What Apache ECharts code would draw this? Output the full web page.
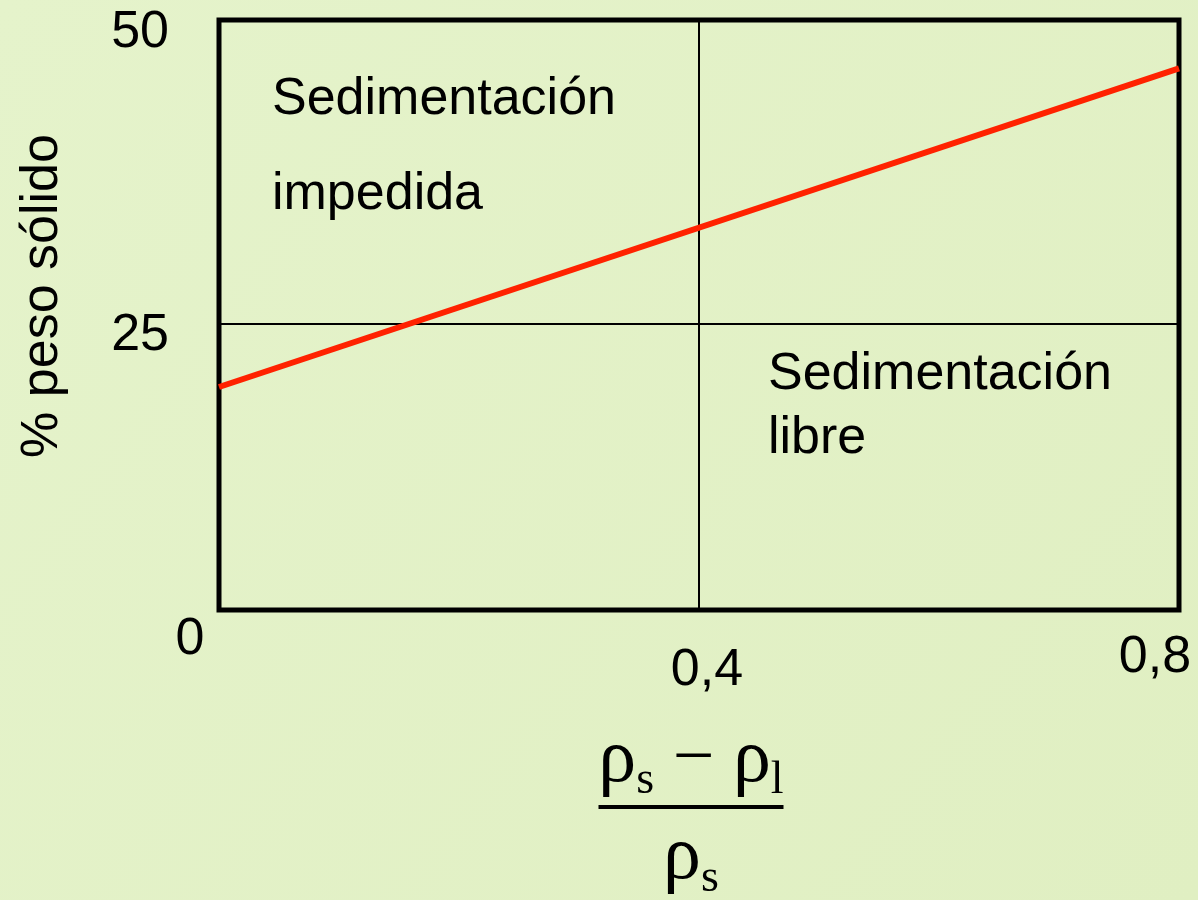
<!DOCTYPE html>
<html>
<head>
<meta charset="utf-8">
<script src="https://cdn.jsdelivr.net/npm/echarts@6/dist/echarts.min.js"></script>
<style>
  html, body { margin: 0; padding: 0; background: #e4f2c9; }
  #chart { width: 1198px; height: 900px; }
</style>
</head>
<body>
<div id="chart"></div>
<script>
// values
const xTicks = [0, 0.4, 0.8];
const xTickLabels = ['0', '0,4', '0,8'];
const yTicks = [0, 25, 50];
const yTickLabels = ['', '25', '50'];
const lineX = [0, 0.8];
const lineY = [18.9, 45.9];
const dividerX = 0.4;
const dividerY = 24.3;

const chart = echarts.init(document.getElementById('chart'));

const font = 'Liberation Sans, Arial, sans-serif';
const serif = 'Liberation Serif, Times New Roman, serif';

const option = {
    backgroundColor: {
        type: 'linear', x: 0, y: 0, x2: 1, y2: 1,
        colorStops: [
            { offset: 0, color: '#e5f3cb' },
            { offset: 1, color: '#e0efc2' }
        ]
    },
    animation: false,
    grid: {
        left: 219, right: 19, top: 20, bottom: 290,
        outerBoundsMode: 'none',
        containLabel: false,
        show: true,
        borderColor: '#000',
        borderWidth: 5,
        backgroundColor: 'transparent'
    },
    xAxis: {
        type: 'value',
        min: 0,
        max: 0.8,
        interval: 0.4,
        axisLine: { show: false },
        axisTick: { show: false },
        splitLine: { show: false },
        axisLabel: {
            margin: 4,
            color: '#000',
            fontFamily: font,
            fontSize: 52,
            formatter: function (v) {
                const i = xTicks.findIndex(t => Math.abs(t - v) < 1e-6);
                return '{t' + i + '|' + xTickLabels[i] + '}';
            },
            rich: {
                t0: { fontSize: 52, fontFamily: font, color: '#000', padding: [0, 58, 0, 0] },
                t1: { fontSize: 52, fontFamily: font, color: '#000', padding: [31, 0, 0, 16] },
                t2: { fontSize: 52, fontFamily: font, color: '#000', padding: [18, 48, 0, 0] }
            }
        },
        name: '{r|ρ}{s|s}{op| − }{r|ρ}{s|l}\n{bar|}\n{r2|ρ}{s2|s}',
        nameLocation: 'middle',
        nameGap: 118,
        nameTextStyle: {
            padding: [0, 16, 0, 0],
            rich: {
                r: { fontFamily: serif, fontSize: 76, color: '#000', lineHeight: 66 },
                s: { fontFamily: serif, fontSize: 46, color: '#000', lineHeight: 44, padding: [40, 0, 0, 0] },
                op: { fontFamily: serif, fontSize: 74, color: '#000', lineHeight: 66 },
                bar: { width: 185, height: 4, backgroundColor: '#000', lineHeight: 26 },
                r2: { fontFamily: serif, fontSize: 76, color: '#000', lineHeight: 66, padding: [11, 0, 0, 0] },
                s2: { fontFamily: serif, fontSize: 46, color: '#000', lineHeight: 44, padding: [51, 0, 0, 0] }
            }
        }
    },
    yAxis: {
        type: 'value',
        min: 0,
        max: 50,
        interval: 25,
        axisLine: { show: false },
        axisTick: { show: false },
        splitLine: { show: false },
        axisLabel: {
            margin: 50,
            color: '#000',
            fontFamily: font,
            fontSize: 52,
            formatter: function (v) {
                const i = yTicks.indexOf(v);
                if (!yTickLabels[i]) return '';
                return '{t' + i + '|' + yTickLabels[i] + '}';
            },
            rich: {
                t1: { fontSize: 52, fontFamily: font, color: '#000', padding: [42, 0, 0, 0] },
                t2: { fontSize: 52, fontFamily: font, color: '#000', padding: [26, 0, 0, 0] }
            }
        },
        name: '% peso sólido',
        nameLocation: 'middle',
        nameGap: 150,
        nameTextStyle: {
            color: '#000',
            fontFamily: font,
            fontSize: 52,
            padding: [0, 0, 0, 38]
        }
    },
    series: [
        {
            type: 'line',
            data: [],
            silent: true,
            markLine: {
                silent: true,
                symbol: 'none',
                label: { show: false },
                lineStyle: { color: '#000', width: 2, type: 'solid' },
                data: [{ xAxis: dividerX }, { yAxis: dividerY }]
            }
        },
        {
            type: 'line',
            data: lineX.map((x, i) => [x, lineY[i]]),
            showSymbol: false,
            silent: true,
            lineStyle: { color: '#ff2200', width: 6 },
            z: 5
        }
    ],
    graphic: [
        {
            type: 'text',
            left: 272,
            top: 52,
            style: {
                text: 'Sedimentación\nimpedida',
                font: '52px ' + font,
                fill: '#000',
                lineHeight: 95
            }
        },
        {
            type: 'text',
            left: 768,
            top: 343,
            style: {
                text: 'Sedimentación\nlibre',
                font: '52px ' + font,
                fill: '#000',
                lineHeight: 64
            }
        }
    ]
};

chart.setOption(option);
</script>
</body>
</html>
